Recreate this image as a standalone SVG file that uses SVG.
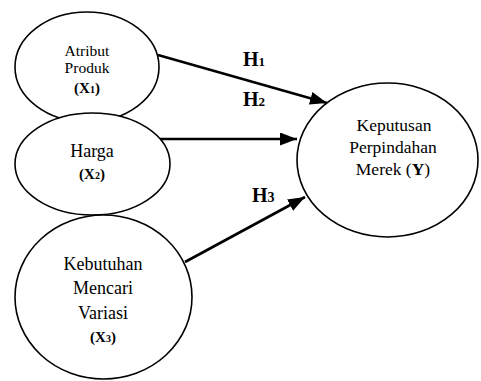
<svg xmlns="http://www.w3.org/2000/svg" width="481" height="381" viewBox="0 0 481 381">
<defs>
<style>
.node{fill:#fff;stroke:#000;stroke-width:1.6}
.t{font-family:"Liberation Serif","Times New Roman",serif;fill:#000;text-anchor:middle}
.b{font-weight:bold}
.edge{stroke:#000;stroke-width:2.6;fill:none;marker-end:url(#ah)}
.h{font-family:"Liberation Serif","Times New Roman",serif;font-weight:bold;font-size:20px;fill:#000}
</style>
<marker id="ah" markerUnits="userSpaceOnUse" markerWidth="17" markerHeight="13" refX="17" refY="6.5" orient="auto">
<path d="M0,0 L17,6.5 L0,13 z" fill="#000"/>
</marker>
</defs>
<rect width="481" height="381" fill="#fff"/>
<g id="x1">
<ellipse class="node" cx="87" cy="67" rx="72" ry="55"/>
<text class="t" x="87" y="56" font-size="15.5">Atribut</text>
<text class="t" x="87" y="73" font-size="15.5">Produk</text>
<text class="t b" x="87" y="93" font-size="15">(X<tspan font-size="10">1</tspan>)</text>
</g>
<g id="x2">
<ellipse class="node" cx="92.5" cy="164" rx="77.5" ry="51"/>
<text class="t" x="92" y="157" font-size="18">Harga</text>
<text class="t b" x="92" y="179" font-size="15">(X<tspan font-size="10">2</tspan>)</text>
</g>
<g id="x3">
<ellipse class="node" cx="103.5" cy="297" rx="88.5" ry="82"/>
<text class="t" x="103" y="270" font-size="18">Kebutuhan</text>
<text class="t" x="103" y="294" font-size="18">Mencari</text>
<text class="t" x="103" y="319" font-size="18">Variasi</text>
<text class="t b" x="103" y="342" font-size="15">(X<tspan font-size="10">3</tspan>)</text>
</g>
<g id="y">
<ellipse class="node" cx="387.5" cy="160" rx="90.5" ry="77"/>
<text class="t" x="394" y="131" font-size="17.5">Keputusan</text>
<text class="t" x="393" y="153" font-size="17.5">Perpindahan</text>
<text class="t" x="393" y="175" font-size="17.5">Merek (<tspan class="b">Y</tspan>)</text>
</g>
<g id="connectors">
<line class="edge" x1="158" y1="55" x2="327" y2="103"/>
<line class="edge" x1="160" y1="139" x2="297" y2="139"/>
<line class="edge" x1="185" y1="262" x2="305" y2="197"/>
<text class="h" x="243" y="66">H<tspan font-size="13">1</tspan></text>
<text class="h" x="243" y="106">H<tspan font-size="13">2</tspan></text>
<text class="h" x="252" y="202">H<tspan font-size="14">3</tspan></text>
</g>
</svg>
